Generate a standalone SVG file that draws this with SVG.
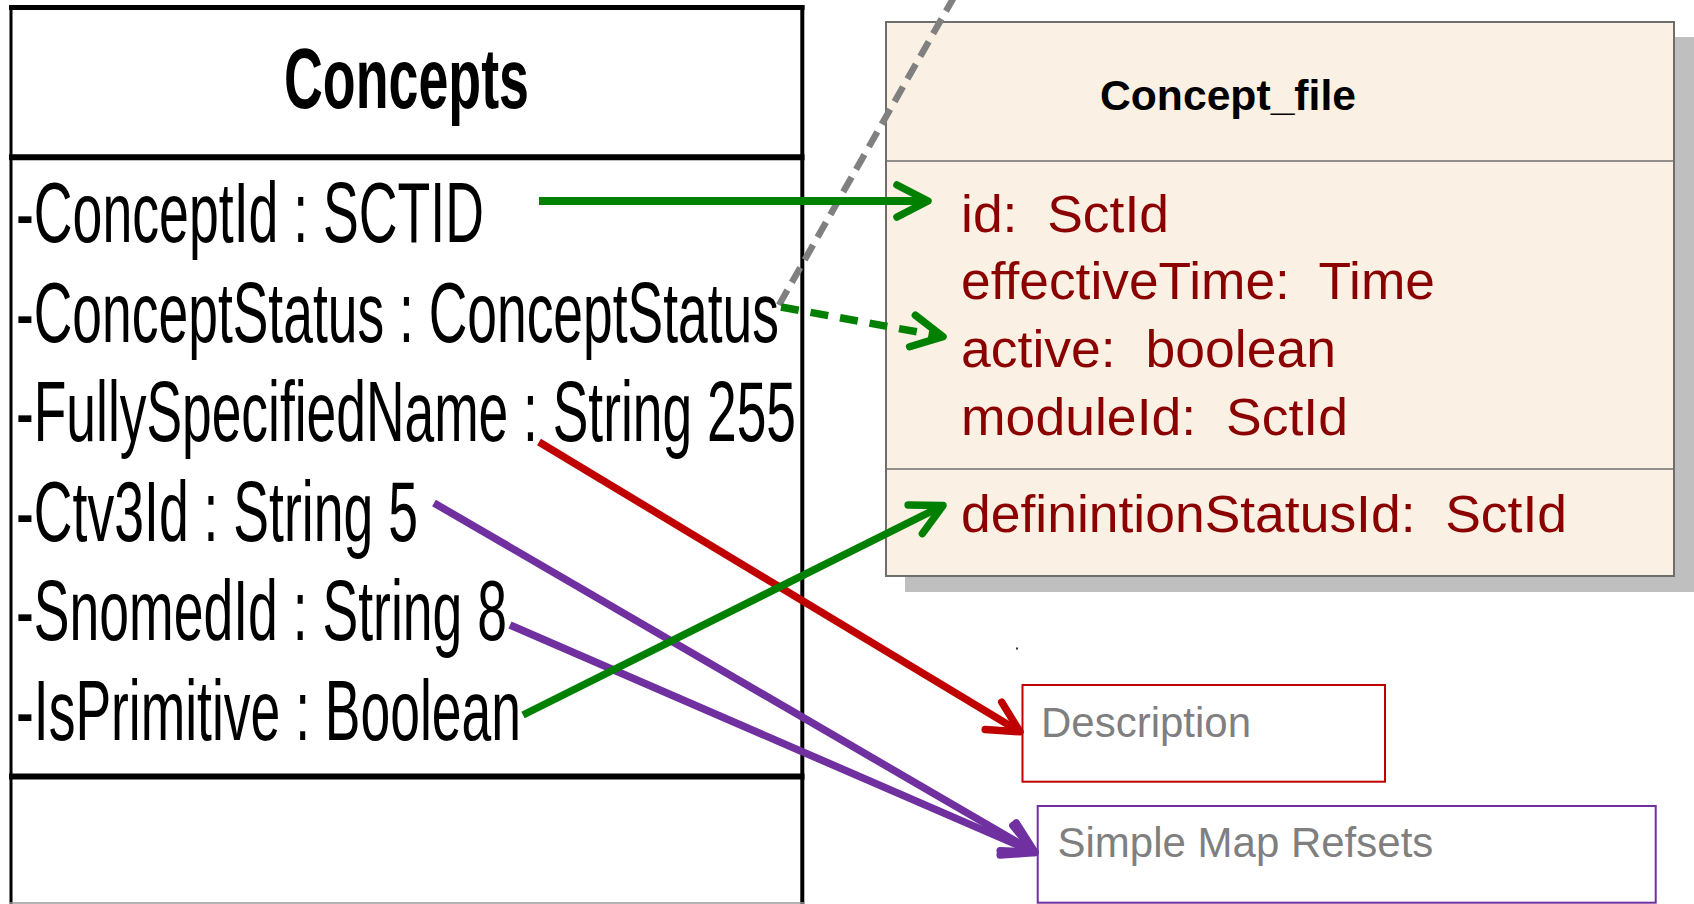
<svg xmlns="http://www.w3.org/2000/svg" width="1694" height="904" viewBox="0 0 1694 904">
<style>
.ln{stroke:#000;fill:none}
.title{font-family:"Liberation Sans",Arial,sans-serif;font-weight:bold;font-size:86px;fill:#000}
.attr{font-family:"Liberation Sans",Arial,sans-serif;font-size:85px;fill:#000}
.cf-title{font-family:"Liberation Sans",Arial,sans-serif;font-weight:bold;font-size:42px;fill:#000}
.cf-attr{font-family:"Liberation Sans",Arial,sans-serif;font-size:51px;fill:#8B0000}
.lbl{font-family:"Liberation Sans",Arial,sans-serif;font-size:42px;fill:#7F7F7F}
.sep{stroke:#6E6E6E;stroke-width:1.5}
</style>
<defs>
<marker id="ag" markerUnits="userSpaceOnUse" viewBox="-45 -30 60 60" markerWidth="60" markerHeight="60" refX="0" refY="0" orient="auto">
<path d="M -31 -16 L 0 0 L -31 16" fill="none" stroke="#008000" stroke-width="7.5" stroke-linecap="round" stroke-linejoin="round"/>
</marker>
<marker id="ar" markerUnits="userSpaceOnUse" viewBox="-45 -30 60 60" markerWidth="60" markerHeight="60" refX="0" refY="0" orient="auto">
<path d="M -31 -16 L 0 0 L -31 16" fill="none" stroke="#C00000" stroke-width="7.5" stroke-linecap="round" stroke-linejoin="round"/>
</marker>
<marker id="ap" markerUnits="userSpaceOnUse" viewBox="-45 -30 60 60" markerWidth="60" markerHeight="60" refX="0" refY="0" orient="auto">
<path d="M -31 -16 L 0 0 L -31 16" fill="none" stroke="#7030A0" stroke-width="7.5" stroke-linecap="round" stroke-linejoin="round"/>
</marker>
</defs>
<rect width="1694" height="904" fill="#fff"/>

<g id="concepts">
<rect x="11" y="7.5" width="791" height="900" fill="#fff" stroke="none"/>
<line class="ln" x1="9" y1="7.5" x2="804.5" y2="7.5" stroke-width="5"/>
<line class="ln" x1="11" y1="5" x2="11" y2="904" stroke-width="3"/>
<line class="ln" x1="802.3" y1="5" x2="802.3" y2="904" stroke-width="4"/>
<line class="ln" x1="9" y1="157.3" x2="804.5" y2="157.3" stroke-width="6"/>
<line class="ln" x1="9" y1="776.5" x2="804.5" y2="776.5" stroke-width="6"/>
<line x1="9" y1="903" x2="804.5" y2="903" stroke="#9a9a9a" stroke-width="1.5"/>
<text class="title" x="284" y="108" textLength="245" lengthAdjust="spacingAndGlyphs">Concepts</text>
<text class="attr" x="16" y="242" textLength="468" lengthAdjust="spacingAndGlyphs">-ConceptId : SCTID</text>
<text class="attr" x="16" y="341.5" textLength="763" lengthAdjust="spacingAndGlyphs">-ConceptStatus : ConceptStatus</text>
<text class="attr" x="16" y="441" textLength="780" lengthAdjust="spacingAndGlyphs">-FullySpecifiedName : String 255</text>
<text class="attr" x="16" y="540.5" textLength="402" lengthAdjust="spacingAndGlyphs">-Ctv3Id : String 5</text>
<text class="attr" x="16" y="640" textLength="491" lengthAdjust="spacingAndGlyphs">-SnomedId : String 8</text>
<text class="attr" x="16" y="739.5" textLength="505" lengthAdjust="spacingAndGlyphs">-IsPrimitive : Boolean</text>
</g>

<g id="concept_file">
<rect x="905" y="37" width="789" height="555" fill="#BFBFBF"/>
<rect x="886" y="22" width="788" height="554" fill="#FAF0E3" stroke="#6E6E6E" stroke-width="2"/>
<line class="sep" x1="886" y1="161" x2="1674" y2="161"/>
<line class="sep" x1="886" y1="469" x2="1674" y2="469"/>
<text class="cf-title" x="1100" y="110" textLength="256" lengthAdjust="spacingAndGlyphs">Concept_file</text>
<text class="cf-attr" xml:space="preserve" x="961" y="232" textLength="208" lengthAdjust="spacingAndGlyphs">id:  SctId</text>
<text class="cf-attr" xml:space="preserve" x="961" y="298.5" textLength="474" lengthAdjust="spacingAndGlyphs">effectiveTime:  Time</text>
<text class="cf-attr" xml:space="preserve" x="961" y="366.5" textLength="375" lengthAdjust="spacingAndGlyphs">active:  boolean</text>
<text class="cf-attr" xml:space="preserve" x="961" y="434.5" textLength="387" lengthAdjust="spacingAndGlyphs">moduleId:  SctId</text>
<text class="cf-attr" xml:space="preserve" x="961" y="532" textLength="606" lengthAdjust="spacingAndGlyphs">definintionStatusId:  SctId</text>
</g>

<g id="description">
<rect x="1022.5" y="685" width="362.5" height="96.7" fill="#fff" stroke="#C00000" stroke-width="2"/>
<text class="lbl" x="1041" y="737">Description</text>
</g>

<g id="simple_map_refsets">
<rect x="1037.7" y="806" width="618" height="96.7" fill="#fff" stroke="#7030A0" stroke-width="2"/>
<text class="lbl" x="1057.5" y="857">Simple Map Refsets</text>
</g>

<rect x="1016" y="647.5" width="2" height="2" fill="#333"/>

<g id="connectors" fill="none">
<line x1="779" y1="305" x2="954" y2="-3" stroke="#808080" stroke-width="6.5" stroke-dasharray="17 9"/>
<line x1="539" y1="201" x2="928" y2="201" stroke="#008000" stroke-width="8" marker-end="url(#ag)"/>
<line x1="781" y1="307" x2="943" y2="336.6" stroke="#008000" stroke-width="7.5" stroke-dasharray="18 12" marker-end="url(#ag)"/>
<line x1="539" y1="442" x2="1020" y2="731.8" stroke="#C00000" stroke-width="7.5" marker-end="url(#ar)"/>
<line x1="434" y1="503" x2="1035" y2="852.4" stroke="#7030A0" stroke-width="7.5" marker-end="url(#ap)"/>
<line x1="510" y1="625" x2="1035" y2="852.6" stroke="#7030A0" stroke-width="7.5" marker-end="url(#ap)"/>
<line x1="523" y1="715" x2="943" y2="505.5" stroke="#008000" stroke-width="7.5" marker-end="url(#ag)"/>
</g>
</svg>
